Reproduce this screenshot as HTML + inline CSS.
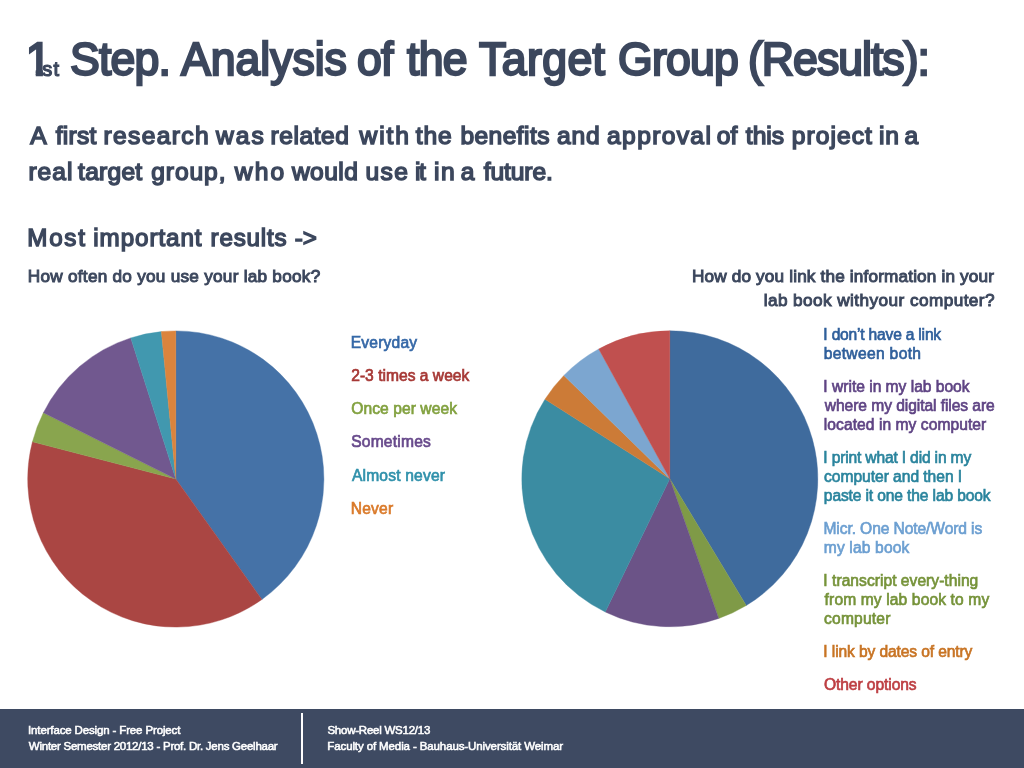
<!DOCTYPE html>
<html lang="en"><head><meta charset="utf-8"><title>1st Step. Analysis of the Target Group (Results)</title>
<style>

html,body{margin:0;padding:0;background:#fff;}
body{width:1024px;height:768px;position:relative;overflow:hidden;font-family:"Liberation Sans", sans-serif;}
.t{position:absolute;display:block;white-space:nowrap;line-height:1;margin:0;padding:0;font-weight:400;transform-origin:0 0;}
h1,h2,p{margin:0;padding:0;font-size:16px;font-weight:400;}
#footer{position:absolute;left:0;top:709.25px;width:1024px;height:59px;background:#3e4a62;}
#vline{position:absolute;left:300.6px;top:713px;width:2.4px;height:50.8px;background:#fff;}
svg{position:absolute;left:0;top:0;}

</style></head>
<body>
<svg width="1024" height="768" viewBox="0 0 1024 768">
<path d="M175.8 479.0L175.80 330.90A148.1 148.1 0 0 1 261.93 599.48Z" fill="#4572A7" stroke="#4572A7" stroke-width="0.4"/>
<path d="M175.8 479.0L261.93 599.48A148.1 148.1 0 0 1 32.45 441.79Z" fill="#AA4643" stroke="#AA4643" stroke-width="0.4"/>
<path d="M175.8 479.0L32.45 441.79A148.1 148.1 0 0 1 43.38 412.69Z" fill="#89A54E" stroke="#89A54E" stroke-width="0.4"/>
<path d="M175.8 479.0L43.38 412.69A148.1 148.1 0 0 1 130.77 337.91Z" fill="#71588F" stroke="#71588F" stroke-width="0.4"/>
<path d="M175.8 479.0L130.77 337.91A148.1 148.1 0 0 1 161.35 331.61Z" fill="#4198AF" stroke="#4198AF" stroke-width="0.4"/>
<path d="M175.8 479.0L161.35 331.61A148.1 148.1 0 0 1 175.80 330.90Z" fill="#DB843D" stroke="#DB843D" stroke-width="0.4"/>
<path d="M669.8 478.8L669.80 330.80A148.0 148.0 0 0 1 746.25 605.53Z" fill="#3F6B9D" stroke="#3F6B9D" stroke-width="0.4"/>
<path d="M669.8 478.8L746.25 605.53A148.0 148.0 0 0 1 718.72 618.48Z" fill="#7F9A47" stroke="#7F9A47" stroke-width="0.4"/>
<path d="M669.8 478.8L718.72 618.48A148.0 148.0 0 0 1 605.27 611.99Z" fill="#6B5387" stroke="#6B5387" stroke-width="0.4"/>
<path d="M669.8 478.8L605.27 611.99A148.0 148.0 0 0 1 544.98 399.28Z" fill="#3B8CA2" stroke="#3B8CA2" stroke-width="0.4"/>
<path d="M669.8 478.8L544.98 399.28A148.0 148.0 0 0 1 563.88 375.43Z" fill="#CC7B37" stroke="#CC7B37" stroke-width="0.4"/>
<path d="M669.8 478.8L563.88 375.43A148.0 148.0 0 0 1 598.73 348.98Z" fill="#7CA6D0" stroke="#7CA6D0" stroke-width="0.4"/>
<path d="M669.8 478.8L598.73 348.98A148.0 148.0 0 0 1 669.80 330.80Z" fill="#C0504F" stroke="#C0504F" stroke-width="0.4"/>
</svg>
<div id="footer"></div><div id="vline"></div>
<h1 id="title">
<span class="t" id="l0" style="left:25.74px;top:35.96px;font-size:46.0px;color:#3c475d;letter-spacing:0.000px;-webkit-text-stroke:2.40px #3c475d;clip-path:polygon(-3px -3px,30px -3px,30px 34.04px,17.18px 34.04px,17.18px 50px,10.01px 50px,10.01px 34.04px,-3px 34.04px);">1</span><span class="t" id="l1" style="left:42.19px;top:58.97px;font-size:20.0px;color:#3c475d;letter-spacing:1.214px;-webkit-text-stroke:1.20px #3c475d;">st</span>
<span class="t" id="l2" style="left:69.75px;top:36.36px;font-size:46.0px;color:#3c475d;letter-spacing:-0.829px;-webkit-text-stroke:2.30px #3c475d;transform:scaleX(0.97);">Step.</span>
<span class="t" id="l3" style="left:181.04px;top:36.36px;font-size:46.0px;color:#3c475d;letter-spacing:-0.039px;-webkit-text-stroke:2.30px #3c475d;transform:scaleX(0.97);">Analysis</span>
<span class="t" id="l4" style="left:356.84px;top:36.36px;font-size:46.0px;color:#3c475d;letter-spacing:-0.718px;-webkit-text-stroke:2.30px #3c475d;transform:scaleX(0.97);">of</span>
<span class="t" id="l5" style="left:407.21px;top:36.36px;font-size:46.0px;color:#3c475d;letter-spacing:-0.792px;-webkit-text-stroke:2.30px #3c475d;transform:scaleX(0.97);">the</span>
<span class="t" id="l6" style="left:478.65px;top:36.36px;font-size:46.0px;color:#3c475d;letter-spacing:0.411px;-webkit-text-stroke:2.30px #3c475d;transform:scaleX(0.97);">Target</span>
<span class="t" id="l7" style="left:617.74px;top:36.36px;font-size:46.0px;color:#3c475d;letter-spacing:-0.837px;-webkit-text-stroke:2.30px #3c475d;transform:scaleX(0.97);">Group</span>
<span class="t" id="l8" style="left:748.11px;top:36.36px;font-size:46.0px;color:#3c475d;letter-spacing:-1.030px;-webkit-text-stroke:2.30px #3c475d;transform:scaleX(0.97);">(Results):</span>
</h1>
<p id="para">
<span class="t" id="l9" style="left:30.30px;top:124.18px;font-size:24.6px;color:#3c475d;letter-spacing:0.000px;-webkit-text-stroke:1.50px #3c475d;">A</span>
<span class="t" id="l10" style="left:55.70px;top:124.18px;font-size:24.6px;color:#3c475d;letter-spacing:0.272px;-webkit-text-stroke:1.50px #3c475d;">first</span>
<span class="t" id="l11" style="left:103.48px;top:124.18px;font-size:24.6px;color:#3c475d;letter-spacing:1.345px;-webkit-text-stroke:1.50px #3c475d;">research</span>
<span class="t" id="l12" style="left:216.01px;top:124.18px;font-size:24.6px;color:#3c475d;letter-spacing:2.010px;-webkit-text-stroke:1.50px #3c475d;">was</span>
<span class="t" id="l13" style="left:270.48px;top:124.18px;font-size:24.6px;color:#3c475d;letter-spacing:0.551px;-webkit-text-stroke:1.50px #3c475d;">related</span>
<span class="t" id="l14" style="left:359.50px;top:124.18px;font-size:24.6px;color:#3c475d;letter-spacing:1.908px;-webkit-text-stroke:1.50px #3c475d;">with</span>
<span class="t" id="l15" style="left:415.85px;top:124.18px;font-size:24.6px;color:#3c475d;letter-spacing:0.815px;-webkit-text-stroke:1.50px #3c475d;">the</span>
<span class="t" id="l16" style="left:460.40px;top:124.18px;font-size:24.6px;color:#3c475d;letter-spacing:0.429px;-webkit-text-stroke:1.50px #3c475d;">benefits</span>
<span class="t" id="l17" style="left:557.10px;top:124.18px;font-size:24.6px;color:#3c475d;letter-spacing:0.794px;-webkit-text-stroke:1.50px #3c475d;">and</span>
<span class="t" id="l18" style="left:607.10px;top:124.18px;font-size:24.6px;color:#3c475d;letter-spacing:1.345px;-webkit-text-stroke:1.50px #3c475d;">approval</span>
<span class="t" id="l19" style="left:716.75px;top:124.18px;font-size:24.6px;color:#3c475d;letter-spacing:-0.013px;-webkit-text-stroke:1.50px #3c475d;">of</span>
<span class="t" id="l20" style="left:745.85px;top:124.18px;font-size:24.6px;color:#3c475d;letter-spacing:-0.031px;-webkit-text-stroke:1.50px #3c475d;">this</span>
<span class="t" id="l21" style="left:791.75px;top:124.18px;font-size:24.6px;color:#3c475d;letter-spacing:1.058px;-webkit-text-stroke:1.50px #3c475d;">project</span>
<span class="t" id="l22" style="left:879.00px;top:124.18px;font-size:24.6px;color:#3c475d;letter-spacing:0.803px;-webkit-text-stroke:1.50px #3c475d;">in</span>
<span class="t" id="l23" style="left:904.60px;top:124.18px;font-size:24.6px;color:#3c475d;letter-spacing:0.000px;-webkit-text-stroke:1.50px #3c475d;">a</span>
<span class="t" id="l24" style="left:28.48px;top:160.18px;font-size:24.6px;color:#3c475d;letter-spacing:0.960px;-webkit-text-stroke:1.50px #3c475d;">real</span>
<span class="t" id="l25" style="left:78.11px;top:160.18px;font-size:24.6px;color:#3c475d;letter-spacing:0.233px;-webkit-text-stroke:1.50px #3c475d;">target</span>
<span class="t" id="l26" style="left:151.15px;top:160.18px;font-size:24.6px;color:#3c475d;letter-spacing:0.936px;-webkit-text-stroke:1.50px #3c475d;">group,</span>
<span class="t" id="l27" style="left:234.82px;top:160.18px;font-size:24.6px;color:#3c475d;letter-spacing:2.091px;-webkit-text-stroke:1.50px #3c475d;">who</span>
<span class="t" id="l28" style="left:291.92px;top:160.18px;font-size:24.6px;color:#3c475d;letter-spacing:0.446px;-webkit-text-stroke:1.50px #3c475d;">would</span>
<span class="t" id="l29" style="left:365.45px;top:160.18px;font-size:24.6px;color:#3c475d;letter-spacing:1.373px;-webkit-text-stroke:1.50px #3c475d;">use</span>
<span class="t" id="l30" style="left:414.90px;top:160.18px;font-size:24.6px;color:#3c475d;letter-spacing:-1.230px;-webkit-text-stroke:1.50px #3c475d;">it</span>
<span class="t" id="l31" style="left:434.00px;top:160.18px;font-size:24.6px;color:#3c475d;letter-spacing:1.494px;-webkit-text-stroke:1.50px #3c475d;">in</span>
<span class="t" id="l32" style="left:460.84px;top:160.18px;font-size:24.6px;color:#3c475d;letter-spacing:0.000px;-webkit-text-stroke:1.50px #3c475d;">a</span>
<span class="t" id="l33" style="left:483.75px;top:160.18px;font-size:24.6px;color:#3c475d;letter-spacing:-0.117px;-webkit-text-stroke:1.50px #3c475d;">future.</span>
</p>
<h2 id="most">
<span class="t" id="l34" style="left:27.24px;top:225.51px;font-size:24.2px;color:#3c475d;letter-spacing:1.761px;-webkit-text-stroke:1.40px #3c475d;">Most</span>
<span class="t" id="l35" style="left:93.30px;top:225.51px;font-size:24.2px;color:#3c475d;letter-spacing:0.926px;-webkit-text-stroke:1.40px #3c475d;">important</span>
<span class="t" id="l36" style="left:210.61px;top:225.51px;font-size:24.2px;color:#3c475d;letter-spacing:0.790px;-webkit-text-stroke:1.40px #3c475d;">results</span>
<span class="t" id="l37" style="left:294.74px;top:225.51px;font-size:24.2px;color:#3c475d;letter-spacing:-0.060px;-webkit-text-stroke:1.40px #3c475d;">-&gt;</span>
</h2>
<div class="t" id="l38" style="left:27.86px;top:267.74px;font-size:17.2px;color:#3c475d;letter-spacing:0.252px;-webkit-text-stroke:0.95px #3c475d;">How often do you use your lab book?</div>
<div class="t" id="l39" style="left:691.99px;top:268.44px;font-size:17.2px;color:#3c475d;letter-spacing:0.153px;-webkit-text-stroke:0.95px #3c475d;">How do you link the information in your</div>
<div class="t" id="l40" style="left:763.66px;top:292.44px;font-size:17.2px;color:#3c475d;letter-spacing:0.429px;-webkit-text-stroke:0.95px #3c475d;">lab book withyour computer?</div>
<div class="t" id="l41" style="left:350.69px;top:334.59px;font-size:15.6px;color:#3568A7;letter-spacing:0.201px;-webkit-text-stroke:0.66px #3568A7;">Everyday</div>
<div class="t" id="l42" style="left:351.22px;top:367.79px;font-size:15.6px;color:#A63835;letter-spacing:0.014px;-webkit-text-stroke:0.66px #A63835;">2-3 times a week</div>
<div class="t" id="l43" style="left:351.19px;top:400.99px;font-size:15.6px;color:#82A13F;letter-spacing:0.078px;-webkit-text-stroke:0.66px #82A13F;">Once per week</div>
<div class="t" id="l44" style="left:351.18px;top:434.19px;font-size:15.6px;color:#67498B;letter-spacing:0.210px;-webkit-text-stroke:0.66px #67498B;">Sometimes</div>
<div class="t" id="l45" style="left:351.93px;top:468.39px;font-size:15.6px;color:#3091AB;letter-spacing:0.183px;-webkit-text-stroke:0.66px #3091AB;">Almost never</div>
<div class="t" id="l46" style="left:350.69px;top:500.59px;font-size:15.6px;color:#DA7A2A;letter-spacing:0.235px;-webkit-text-stroke:0.66px #DA7A2A;">Never</div>
<div class="t" id="l47" style="left:823.36px;top:327.39px;font-size:15.6px;color:#2F5F9B;letter-spacing:-0.198px;-webkit-text-stroke:0.66px #2F5F9B;">I don’t have a link</div>
<div class="t" id="l48" style="left:823.71px;top:346.39px;font-size:15.6px;color:#2F5F9B;letter-spacing:0.329px;-webkit-text-stroke:0.66px #2F5F9B;">between both</div>
<div class="t" id="l49" style="left:823.36px;top:379.49px;font-size:15.6px;color:#5F4484;letter-spacing:-0.013px;-webkit-text-stroke:0.66px #5F4484;">I write in my lab book</div>
<div class="t" id="l50" style="left:824.83px;top:398.49px;font-size:15.6px;color:#5F4484;letter-spacing:-0.069px;-webkit-text-stroke:0.66px #5F4484;">where my digital files are</div>
<div class="t" id="l51" style="left:823.84px;top:417.49px;font-size:15.6px;color:#5F4484;letter-spacing:0.060px;-webkit-text-stroke:0.66px #5F4484;">located in my computer</div>
<div class="t" id="l52" style="left:823.32px;top:449.59px;font-size:15.6px;color:#2A849D;letter-spacing:-0.164px;-webkit-text-stroke:0.66px #2A849D;">I print what I did in my</div>
<div class="t" id="l53" style="left:824.10px;top:468.59px;font-size:15.6px;color:#2A849D;letter-spacing:-0.036px;-webkit-text-stroke:0.66px #2A849D;">computer and then I</div>
<div class="t" id="l54" style="left:823.85px;top:487.59px;font-size:15.6px;color:#2A849D;letter-spacing:-0.132px;-webkit-text-stroke:0.66px #2A849D;">paste it one the lab book</div>
<div class="t" id="l55" style="left:823.48px;top:520.69px;font-size:15.6px;color:#6C9FD1;letter-spacing:-0.100px;-webkit-text-stroke:0.66px #6C9FD1;">Micr. One Note/Word is</div>
<div class="t" id="l56" style="left:823.82px;top:539.69px;font-size:15.6px;color:#6C9FD1;letter-spacing:0.143px;-webkit-text-stroke:0.66px #6C9FD1;">my lab book</div>
<div class="t" id="l57" style="left:823.36px;top:572.79px;font-size:15.6px;color:#76933A;letter-spacing:0.029px;-webkit-text-stroke:0.66px #76933A;">I transcript every-thing</div>
<div class="t" id="l58" style="left:824.62px;top:591.79px;font-size:15.6px;color:#76933A;letter-spacing:0.122px;-webkit-text-stroke:0.66px #76933A;">from my lab book to my</div>
<div class="t" id="l59" style="left:824.08px;top:610.79px;font-size:15.6px;color:#76933A;letter-spacing:0.187px;-webkit-text-stroke:0.66px #76933A;">computer</div>
<div class="t" id="l60" style="left:823.36px;top:643.89px;font-size:15.6px;color:#C87424;letter-spacing:-0.114px;-webkit-text-stroke:0.66px #C87424;">I link by dates of entry</div>
<div class="t" id="l61" style="left:823.88px;top:677.29px;font-size:15.6px;color:#BD3E42;letter-spacing:-0.072px;-webkit-text-stroke:0.66px #BD3E42;">Other options</div>
<div class="t" id="l62" style="left:28.04px;top:725.27px;font-size:11.5px;color:#ffffff;letter-spacing:-0.142px;-webkit-text-stroke:0.55px #ffffff;">Interface Design - Free Project</div>
<div class="t" id="l63" style="left:28.83px;top:741.27px;font-size:11.5px;color:#ffffff;letter-spacing:-0.249px;-webkit-text-stroke:0.55px #ffffff;">Winter Semester 2012/13 - Prof. Dr. Jens Geelhaar</div>
<div class="t" id="l64" style="left:327.38px;top:725.27px;font-size:11.5px;color:#ffffff;letter-spacing:-0.233px;-webkit-text-stroke:0.55px #ffffff;">Show-Reel WS12/13</div>
<div class="t" id="l65" style="left:327.30px;top:741.27px;font-size:11.5px;color:#ffffff;letter-spacing:-0.113px;-webkit-text-stroke:0.55px #ffffff;">Faculty of Media - Bauhaus-Universität Weimar</div>
</body></html>
